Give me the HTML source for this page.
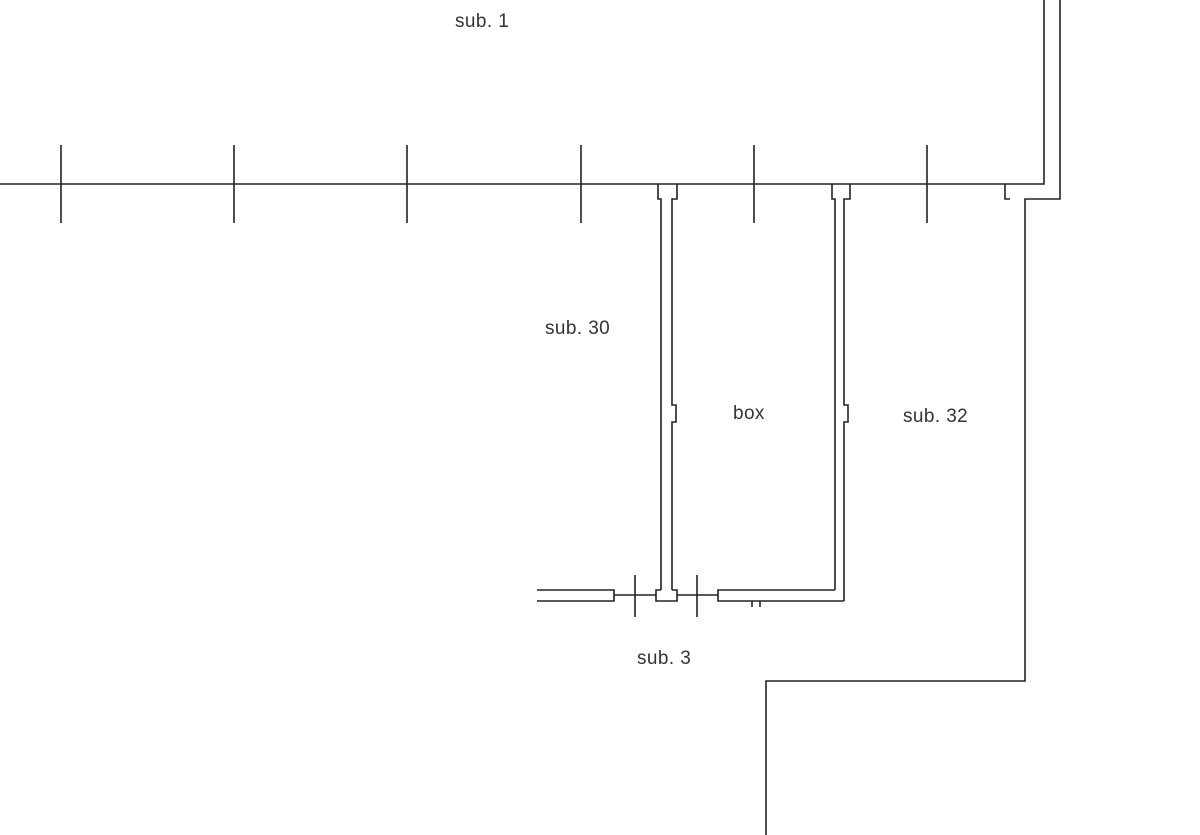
<!DOCTYPE html>
<html><head><meta charset="utf-8"><style>
html,body{margin:0;padding:0;background:#fff;width:1200px;height:835px;overflow:hidden}
svg{display:block}
text{font-family:"Liberation Sans",Arial,sans-serif;font-size:19px;fill:#333;letter-spacing:0.4px}
</style></head><body>
<svg width="1200" height="835" viewBox="0 0 1200 835" xmlns="http://www.w3.org/2000/svg">
<g fill="none" stroke="#222" stroke-width="1.6">
<!-- main line -->
<polyline points="0,184 1044,184 1044,0"/>
<polyline points="1060,0 1060,199 1025,199 1025,681 766,681 766,835"/>
<polyline points="1005,184 1005,199 1010,199"/>
<!-- ticks -->
<line x1="61" y1="145" x2="61" y2="223"/>
<line x1="234" y1="145" x2="234" y2="223"/>
<line x1="407" y1="145" x2="407" y2="223"/>
<line x1="581" y1="145" x2="581" y2="223"/>
<line x1="754" y1="145" x2="754" y2="223"/>
<line x1="927" y1="145" x2="927" y2="223"/>
<!-- wall 1 -->
<polyline points="658,184 658,199 661,199 661,590"/>
<polyline points="677,184 677,199 672,199 672,405 676,405 676,422 672,422 672,590"/>
<!-- wall 2 -->
<polyline points="832,184 832,199 835,199 835,590"/>
<polyline points="850,184 850,199 844,199 844,405 848,405 848,422 844,422 844,601"/>
<!-- bottom -->
<polyline points="537,590 614,590 614,601 537,601"/>
<line x1="614" y1="595" x2="656" y2="595"/>
<line x1="635" y1="575" x2="635" y2="617"/>
<polyline points="661,590 656,590 656,601 677,601 677,590 672,590"/>
<line x1="677" y1="595" x2="718" y2="595"/>
<line x1="697" y1="575" x2="697" y2="617"/>
<polyline points="835,590 718,590 718,601 844,601"/>
<polyline points="752,607 752,601"/>
<polyline points="760,607 760,601"/>
</g>
<text x="455" y="27">sub. 1</text>
<text x="545" y="334">sub. 30</text>
<text x="733" y="419">box</text>
<text x="903" y="422">sub. 32</text>
<text x="637" y="664">sub. 3</text>
</svg>
</body></html>
